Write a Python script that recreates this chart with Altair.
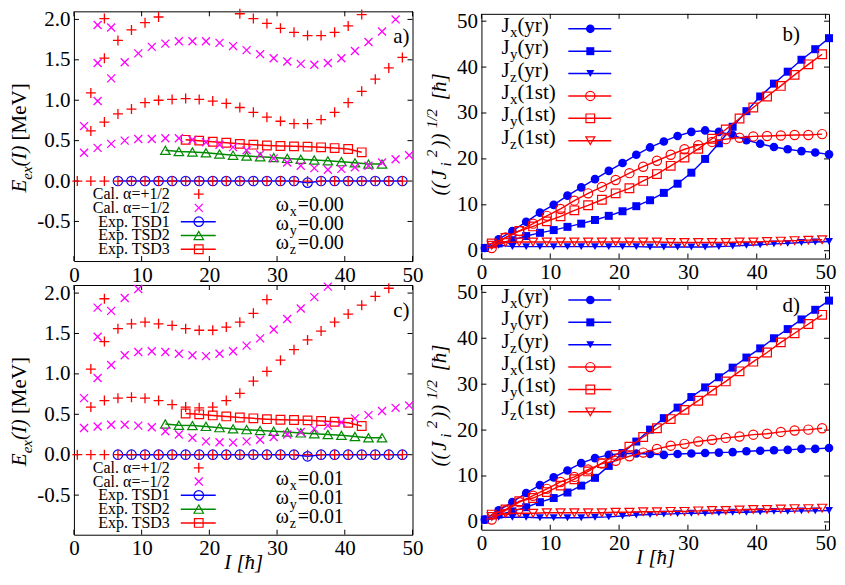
import altair as alt
import pandas as pd

FONT = "Liberation Serif"
RED, MAG, BLUE, GREEN = "#ff0000", "#ff00ff", "#0000ff", "#008a00"
PLUS = "M-1,0L1,0M0,-1L0,1"
CROSS = "M-1,-1L1,1M-1,1L1,-1"

# ---------------- spins ----------------
I_PLUS = [0.5, 2.5, 4.5, 6.5, 8.5, 10.5, 12.5, 14.5, 16.5, 18.5, 20.5, 22.5, 24.5,
          26.5, 28.5, 30.5, 32.5, 34.5, 36.5, 38.5, 40.5, 42.5, 44.5, 46.5, 48.5]
I_MINUS = [1.5, 3.5, 5.5, 7.5, 9.5, 11.5, 13.5, 15.5, 17.5, 19.5, 21.5, 23.5, 25.5,
           27.5, 29.5, 31.5, 33.5, 35.5, 37.5, 39.5, 41.5, 43.5, 45.5, 47.5, 49.5]
I_YR = [0.5, 2.5, 4.5, 6.5, 8.5, 10.5, 12.5, 14.5, 16.5, 18.5, 20.5, 22.5, 24.5,
        26.5, 28.5, 30.5, 32.5, 34.5, 36.5, 38.5, 40.5, 42.5, 44.5, 46.5, 48.5, 50.5]
I_1ST = [1.5, 3.5, 5.5, 7.5, 9.5, 11.5, 13.5, 15.5, 17.5, 19.5, 21.5, 23.5, 25.5,
         27.5, 29.5, 31.5, 33.5, 35.5, 37.5, 39.5, 41.5, 43.5, 45.5, 47.5, 49.5]

# ---------------- experimental bands ----------------
TSD1_I = [6.5, 8.5, 10.5, 12.5, 14.5, 16.5, 18.5, 20.5, 22.5, 24.5, 26.5, 28.5, 30.5,
          32.5, 34.5, 36.5, 38.5, 40.5, 42.5, 44.5, 46.5, 48.5]
TSD1_E = [0.0, 0.0, 0.0, 0.0, 0.0, 0.0, 0.0, 0.0, 0.0, 0.0, 0.0, 0.0, 0.0,
          0.0, -0.02, 0.0, 0.0, 0.0, 0.0, 0.0, 0.0, 0.0]
TSD2_I = [13.5, 15.5, 17.5, 19.5, 21.5, 23.5, 25.5, 27.5, 29.5, 31.5, 33.5, 35.5, 37.5,
          39.5, 41.5, 43.5, 45.5]
TSD2_E = [0.38, 0.365, 0.36, 0.35, 0.335, 0.32, 0.31, 0.30, 0.29, 0.28, 0.27, 0.26, 0.25,
          0.24, 0.225, 0.21, 0.21]
TSD3_I = [16.5, 18.5, 20.5, 22.5, 24.5, 26.5, 28.5, 30.5, 32.5, 34.5, 36.5, 38.5, 40.5, 42.5]
TSD3_E = [0.51, 0.50, 0.486, 0.474, 0.46, 0.45, 0.44, 0.433, 0.429, 0.425, 0.417, 0.408,
          0.396, 0.355]

# ---------------- panel a (omega = 0.00) ----------------
A_PLUS_B0 = [0.0, 0.0, 0.0, 0.0, 0.0, 0.0, 0.0, 0.0, 0.0, 0.0, 0.0, 0.0, 0.0,
             0.0, 0.0, 0.0, 0.0, 0.0, 0.0, 0.0, 0.0, 0.0, 0.0, 0.0, 0.0]
A_PLUS_B1 = [0.62, 0.73, 0.83, 0.89, 0.97, 1.00, 1.01, 1.02, 1.01, 0.99, 0.96, 0.91,
             0.85, 0.79, 0.74, 0.71, 0.71, 0.76, 0.85, 0.97, 1.11, 1.26, 1.40, 1.53]
A_PLUS_B2_I = [2.5, 4.5, 6.5, 8.5, 10.5, 12.5, 24.5, 26.5, 28.5, 30.5, 32.5, 34.5,
               36.5, 38.5, 40.5, 42.5, 4.5]
A_PLUS_B2_E = [1.09, 1.52, 1.74, 1.87, 1.96, 2.03, 2.07, 2.01, 1.95, 1.89, 1.84, 1.80,
               1.80, 1.84, 1.92, 2.06, 2.01]
A_MINUS_LOW = [0.35, 0.41, 0.46, 0.50, 0.52, 0.52, 0.53, 0.53, 0.51, 0.48, 0.45, 0.42,
               0.38, 0.33, 0.28, 0.23, 0.19, 0.16, 0.14, 0.15, 0.17, 0.19, 0.23, 0.27, 0.32]
A_MINUS_MID = [0.68, 0.99, 1.27, 1.47, 1.58, 1.66, 1.70, 1.73, 1.73, 1.73, 1.71, 1.67,
               1.62, 1.57, 1.52, 1.48, 1.45, 1.44, 1.46, 1.52, 1.61, 1.72, 1.85, 2.00]
A_MINUS_UP_I = [3.5, 3.5, 5.5]
A_MINUS_UP_E = [1.46, 1.93, 1.90]

# ---------------- panel c (omega = 0.01) ----------------
C_PLUS_B1 = [0.59, 0.67, 0.70, 0.71, 0.70, 0.67, 0.62, 0.59, 0.58, 0.59, 0.67, 0.76,
             0.91, 1.03, 1.17, 1.30, 1.42, 1.53, 1.64, 1.74, 1.85, 1.96, 2.06]
C_PLUS_B2_I = [2.5, 4.5, 6.5, 8.5, 10.5, 12.5, 14.5, 16.5, 18.5, 20.5, 22.5, 24.5,
               26.5, 28.5, 4.5]
C_PLUS_B2_E = [1.06, 1.40, 1.56, 1.62, 1.64, 1.62, 1.60, 1.56, 1.54, 1.54, 1.58, 1.64,
               1.75, 1.92, 1.93]
C_MINUS_LOW = [0.33, 0.35, 0.37, 0.37, 0.36, 0.34, 0.29, 0.25, 0.21, 0.165, 0.155, 0.15,
               0.165, 0.185, 0.22, 0.25, 0.28, 0.32, 0.36, 0.40, 0.45, 0.49, 0.54, 0.58, 0.61]
C_MINUS_MID = [0.70, 0.95, 1.11, 1.23, 1.27, 1.28, 1.27, 1.25, 1.23, 1.22, 1.25, 1.28,
               1.35, 1.44, 1.55, 1.68, 1.81, 1.95, 2.08]
C_MINUS_UP_I = [3.5, 3.5, 5.5, 7.5, 9.5]
C_MINUS_UP_E = [1.46, 1.82, 1.78, 1.94, 2.05]

# ---------------- panel b (omega = 0.00) ----------------
B_JX_YR = [0.6, 2.5, 4.3, 6.3, 8.3, 10.0, 12.0, 13.8, 15.6, 17.4, 19.1, 20.9, 22.5,
           23.8, 25.0, 25.9, 26.2, 25.9, 25.2, 24.1, 23.3, 22.6, 22.1, 21.7, 21.4, 21.0]
B_JY_YR = [0.6, 1.6, 2.3, 3.2, 3.9, 4.5, 5.2, 5.9, 6.7, 7.6, 8.6, 9.7, 11.0,
           12.6, 14.6, 17.0, 20.0, 23.4, 27.0, 30.4, 33.6, 36.4, 39.0, 41.6, 43.9, 46.3]
B_JZ_YR = [0.4, 1.2, 0.9, 0.9, 0.9, 0.9, 0.9, 0.9, 0.9, 0.9, 0.9, 0.9, 0.8,
           0.8, 0.8, 0.8, 0.8, 0.9, 1.0, 1.2, 1.3, 1.5, 1.6, 1.8, 1.9, 2.0]
B_JX_1ST = [0.6, 2.9, 4.3, 5.9, 7.6, 9.1, 10.9, 12.5, 13.9, 15.4, 16.9, 18.3, 19.6,
            20.9, 22.1, 23.0, 23.7, 24.3, 24.6, 24.9, 25.0, 25.1, 25.2, 25.2, 25.4]
B_JY_1ST = [1.6, 2.8, 4.3, 5.3, 6.4, 7.5, 8.8, 9.9, 11.1, 12.5, 13.6, 15.2, 16.7,
            18.5, 20.3, 22.2, 24.4, 26.4, 28.8, 31.2, 33.6, 35.9, 38.3, 40.6, 42.8]
B_JZ_1ST = [1.2, 1.8, 1.9, 1.9, 1.9, 1.9, 1.9, 1.9, 1.9, 1.9, 1.9, 1.9, 1.9,
            1.8, 1.8, 1.8, 1.8, 1.8, 1.9, 1.9, 2.0, 2.1, 2.2, 2.3, 2.4]

# ---------------- panel d (omega = 0.01) ----------------
D_JX_YR = [0.5, 2.5, 4.3, 6.3, 8.0, 9.7, 11.2, 12.8, 13.9, 14.6, 14.9, 14.9, 14.8,
           14.6, 14.8, 14.9, 15.0, 15.1, 15.2, 15.4, 15.5, 15.6, 15.7, 15.9, 15.9, 16.1]
D_JY_YR = [0.5, 1.6, 2.3, 3.2, 4.3, 5.2, 6.4, 7.9, 9.6, 12.2, 15.0, 17.5, 20.1,
           22.6, 24.9, 27.2, 29.3, 31.5, 33.6, 35.8, 37.8, 40.0, 42.0, 44.1, 46.2, 48.2]
D_JZ_YR = [0.4, 1.0, 1.0, 1.0, 0.9, 0.9, 0.9, 0.9, 1.0, 1.1, 1.3, 1.5, 1.6,
           1.7, 1.8, 1.9, 1.9, 2.0, 2.1, 2.1, 2.2, 2.3, 2.3, 2.4, 2.4, 2.5]
D_JX_1ST = [0.5, 2.5, 4.3, 5.7, 7.2, 8.7, 9.8, 11.4, 12.7, 13.3, 14.3, 15.1, 15.9,
            16.6, 17.0, 17.5, 17.9, 18.3, 18.6, 19.0, 19.2, 19.6, 19.9, 20.1, 20.4]
D_JY_1ST = [1.6, 2.7, 4.5, 5.2, 6.5, 7.9, 9.3, 11.0, 12.8, 14.6, 16.4, 18.5, 20.4,
            22.4, 24.4, 26.4, 28.6, 30.6, 32.8, 34.9, 36.9, 39.1, 41.1, 43.1, 45.1]
D_JZ_1ST = [1.2, 1.8, 1.9, 1.9, 2.0, 2.0, 2.0, 2.0, 2.0, 2.1, 2.1, 2.2, 2.2,
            2.3, 2.3, 2.4, 2.5, 2.5, 2.6, 2.7, 2.7, 2.8, 2.9, 2.9, 3.0]

# ---------------- axes / ticks ----------------
X_TICKS = [0, 10, 20, 30, 40, 50]
E_TICKS = [-0.5, 0.0, 0.5, 1.0, 1.5, 2.0]
J_TICKS = [0, 10, 20, 30, 40, 50]
E_FMT = "replace(format(datum.value, '.1f'), '\u2212', '-')"

WE, HE = 339, 250
WJ, HJ = 348, 245
TL = 5

one = pd.DataFrame({"k": [0]})


def txt(x, y, s, size=21, style="normal", align="left", baseline="alphabetic", angle=None):
    kw = dict(font=FONT, fontSize=size, fontStyle=style, align=align, baseline=baseline,
              color="black")
    if angle is not None:
        kw["angle"] = angle
    return alt.Chart(one).mark_text(**kw).encode(x=alt.value(x), y=alt.value(y),
                                                 text=alt.value(s))


def sym(x, y, shape, color, filled, size, sw=1.3):
    return alt.Chart(one).mark_point(shape=shape, color=color, filled=filled, size=size,
                                     strokeWidth=sw, opacity=1).encode(
        x=alt.value(x), y=alt.value(y))


def hline(x1, x2, y, color, sw=1.5):
    return alt.Chart(one).mark_rule(color=color, strokeWidth=sw).encode(
        x=alt.value(x1), x2=alt.value(x2), y=alt.value(y))


def xaxis(title):
    kw = dict(values=X_TICKS, grid=False, domain=False, ticks=False, labelFont=FONT,
              labelFontSize=21, labelColor="black", labelFlush=False, labelOverlap=False,
              labelPadding=3)
    if title:
        kw.update(title=title, titleFont=FONT, titleFontSize=21, titleFontStyle="italic",
                  titleFontWeight="normal", titleColor="black", titleY=28,
                  titleBaseline="middle")
    else:
        kw["title"] = None
    return alt.Axis(**kw)


def yaxis(vals, expr=None):
    kw = dict(values=vals, grid=False, domain=False, ticks=False, labelFont=FONT,
              labelFontSize=21, labelColor="black", labelFlush=False, labelOverlap=False,
              labelPadding=4, title=None)
    if expr:
        kw["labelExpr"] = expr
    return alt.Axis(**kw)


def tick_layers(X, Y, xfield, yfield, xvals, yvals, W, H):
    tx = pd.DataFrame({xfield: xvals})
    ty = pd.DataFrame({yfield: yvals})
    r = dict(color="black", strokeWidth=1)
    return [
        alt.Chart(ty).mark_rule(**r).encode(y=Y, x=alt.value(0), x2=alt.value(TL)),
        alt.Chart(ty).mark_rule(**r).encode(y=Y, x=alt.value(W - TL), x2=alt.value(W)),
        alt.Chart(tx).mark_rule(**r).encode(x=X, y=alt.value(H), y2=alt.value(H - TL)),
        alt.Chart(tx).mark_rule(**r).encode(x=X, y=alt.value(0), y2=alt.value(TL)),
    ]


def e_panel(plus_I, plus_E, minus_I, minus_E, omega, tag, bottom):
    W, H = WE, HE
    xs = alt.Scale(domain=[0, 50], nice=False, zero=False)
    ys = alt.Scale(domain=[-0.99, 2.1], nice=False, zero=False)
    X = alt.X("I:Q", scale=xs, axis=xaxis("I [ħ]" if bottom else None))
    Y = alt.Y("E:Q", scale=ys, axis=yaxis(E_TICKS, E_FMT))
    layers = tick_layers(X, Y, "I", "E", X_TICKS, E_TICKS, W, H)
    for I, E, shape, col, sz in [(TSD1_I, TSD1_E, "circle", BLUE, 90),
                                 (TSD2_I, TSD2_E, "triangle-up", GREEN, 90),
                                 (TSD3_I, TSD3_E, "square", RED, 75)]:
        d = pd.DataFrame({"I": I, "E": E})
        layers.append(alt.Chart(d).mark_line(color=col, strokeWidth=1.5).encode(x=X, y=Y))
        layers.append(alt.Chart(d).mark_point(shape=shape, filled=False, color=col, size=sz,
                                              strokeWidth=1.2, opacity=1).encode(x=X, y=Y))
    dp = pd.DataFrame({"I": plus_I, "E": plus_E})
    dm = pd.DataFrame({"I": minus_I, "E": minus_E})
    layers.append(alt.Chart(dp).mark_point(shape=PLUS, filled=False, color=RED, size=100,
                                           strokeWidth=1.3, opacity=1).encode(x=X, y=Y))
    layers.append(alt.Chart(dm).mark_point(shape=CROSS, filled=False, color=MAG, size=64,
                                           strokeWidth=1.3, opacity=1).encode(x=X, y=Y))
    # legend
    rows = [H - 67, H - 53.2, H - 39.4, H - 25.6, H - 11.8]
    labels = ["Cal. \u03b1=+1/2", "Cal. \u03b1=\u22121/2", "Exp. TSD1", "Exp. TSD2", "Exp. TSD3"]
    for yy, lab in zip(rows, labels):
        layers.append(txt(96, yy, lab, size=16, align="right", baseline="middle"))
    layers.append(sym(125, rows[0], PLUS, RED, False, 100))
    layers.append(sym(125, rows[1], CROSS, MAG, False, 64))
    for yy, shape, col, sz in [(rows[2], "circle", BLUE, 90), (rows[3], "triangle-up", GREEN, 90),
                               (rows[4], "square", RED, 75)]:
        layers.append(hline(107, 142, yy, col))
        layers.append(sym(125, yy, shape, col, False, sz, 1.2))
    # omega text
    for sub, yy in [("x", H - 50), ("y", H - 31), ("z", H - 12)]:
        layers.append(txt(202, yy, "\u03c9", size=20))
        layers.append(txt(216, yy + 5, sub, size=14))
        layers.append(txt(224, yy, "=" + omega, size=20))
    layers.append(txt(W - 3, 32, tag, size=21, align="right"))
    # y title  E_ex(I) [MeV]
    c = H / 2
    layers.append(txt(-48, c + 50.0, "E", style="italic", align="center", angle=270))
    layers.append(txt(-42, c + 36.9, "ex", size=15, style="italic", align="center", angle=270))
    layers.append(txt(-48, c + 19.8, "(I)", style="italic", align="center", angle=270))
    layers.append(txt(-48, c - 24.3, "[MeV]", align="center", angle=270))
    return alt.layer(*layers).properties(width=W, height=H)


def j_panel(jx_yr, jy_yr, jz_yr, jx_1, jy_1, jz_1, tag, bottom):
    W, H = WJ, HJ
    xs = alt.Scale(domain=[0, 50.5], nice=False, zero=False)
    ys = alt.Scale(domain=[-1.7, 51.6], nice=False, zero=False)
    X = alt.X("I:Q", scale=xs, axis=xaxis("I [ħ]" if bottom else None))
    Y = alt.Y("J:Q", scale=ys, axis=yaxis(J_TICKS))
    layers = tick_layers(X, Y, "I", "J", X_TICKS, J_TICKS, W, H)
    series = [
        (I_YR, jx_yr, "circle", BLUE, True, 75),
        (I_YR, jy_yr, "square", BLUE, True, 64),
        (I_YR, jz_yr, "triangle-down", BLUE, True, 64),
        (I_1ST, jx_1, "circle", RED, False, 85),
        (I_1ST, jy_1, "square", RED, False, 75),
        (I_1ST, jz_1, "triangle-down", RED, False, 80),
    ]
    for I, J, shape, col, filled, sz in series:
        d = pd.DataFrame({"I": I, "J": J})
        layers.append(alt.Chart(d).mark_line(color=col, strokeWidth=1.4).encode(x=X, y=Y))
        layers.append(alt.Chart(d).mark_point(shape=shape, filled=filled, color=col, size=sz,
                                              strokeWidth=1.2, opacity=1).encode(x=X, y=Y))
    subs = ["x", "y", "z", "x", "y", "z"]
    tails = ["(yr)", "(yr)", "(yr)", "(1st)", "(1st)", "(1st)"]
    for k, ((I, J, shape, col, filled, sz), sub, tail) in enumerate(zip(series, subs, tails)):
        base = 18 + 22.4 * k
        layers.append(txt(20, base, "J", size=21))
        layers.append(txt(28.5, base + 5, sub, size=15))
        layers.append(txt(36, base, tail, size=21))
        layers.append(hline(87, 130, base - 3, col))
        layers.append(sym(109, base - 3, shape, col, filled, sz, 1.2))
    layers.append(txt(W - 29, 27, tag, size=21, align="right"))
    # y title  ((J_i^2))^{1/2} [hbar]
    pieces = [(-35, 174.8, "((", 21), (-35, 161.3, "J", 21), (-30, 150.8, "i", 15),
              (-44, 139.8, "2", 15), (-35, 126.8, "))", 21), (-44, 104.8, "1/2", 15),
              (-35, 73.0, "[ħ]", 21)]
    for x, y, s, sz in pieces:
        layers.append(txt(x, y, s, size=sz, style="italic", align="center", angle=270))
    return alt.layer(*layers).properties(width=W, height=H)


pa = e_panel(I_PLUS + I_PLUS[1:] + A_PLUS_B2_I,
             A_PLUS_B0 + A_PLUS_B1 + A_PLUS_B2_E,
             I_MINUS + I_MINUS[:24] + A_MINUS_UP_I,
             A_MINUS_LOW + A_MINUS_MID + A_MINUS_UP_E,
             "0.00", "a)", False)
pc = e_panel(I_PLUS + I_PLUS[1:24] + C_PLUS_B2_I,
             A_PLUS_B0 + C_PLUS_B1 + C_PLUS_B2_E,
             I_MINUS + I_MINUS[:19] + C_MINUS_UP_I,
             C_MINUS_LOW + C_MINUS_MID + C_MINUS_UP_E,
             "0.01", "c)", True)
pb = j_panel(B_JX_YR, B_JY_YR, B_JZ_YR, B_JX_1ST, B_JY_1ST, B_JZ_1ST, "b)", False)
pd_ = j_panel(D_JX_YR, D_JY_YR, D_JZ_YR, D_JX_1ST, D_JY_1ST, D_JZ_1ST, "d)", True)

chart = alt.concat(pa, pb, pc, pd_, columns=2, spacing={"row": 24, "column": 69},
                   bounds="flush", align="each", center=True).properties(
    padding={"left": 0, "top": -3, "right": 0, "bottom": 0}
).configure(font=FONT).configure_axis(
    labelFont=FONT, titleFont=FONT, labelFontSize=21, titleFontSize=21, labelColor="black"
).configure_text(font=FONT).configure_view(stroke="black", strokeWidth=1)

chart.save("out.html", embed_options={"renderer": "svg", "actions": False})
